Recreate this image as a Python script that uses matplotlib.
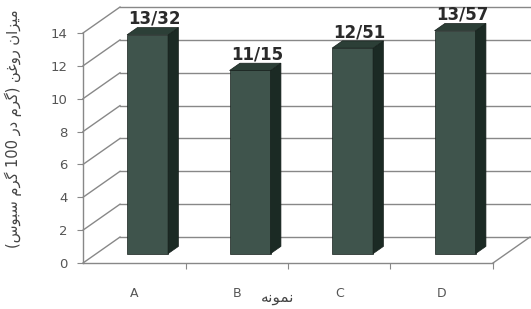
import numpy as np
import matplotlib

matplotlib.use("Agg")
import matplotlib.pyplot as plt
from matplotlib.patches import Polygon

# data
samples = ["A", "B", "C", "D"]
oil = [13.32, 11.15, 12.51, 13.57]
value_labels = ["13/32", "11/15", "12/51", "13/57"]
y_ticks = [0, 2, 4, 6, 8, 10, 12, 14]

# Persian text in visual order with presentation forms (matplotlib does no shaping)
w_mizan = "\ufee5\ufe8d\ufeb0\ufef4\ufee3"
w_roghan = "\ufee6\ufecf\ufeed\ufead"
w_geram = "\ufee1\ufeae\ufb94"
w_dar = "\ufead\ufea9"
w_sabus = "\ufeb1\ufeee\ufe92\ufeb3"
ylabel_text = "(" + w_sabus + " " + w_geram + " 100 " + w_dar + " " + w_geram + ") " + w_roghan + " " + w_mizan
xlabel_text = "\ufeea\ufee7\ufeee\ufee4\ufee7"

# oblique depth of the chart box, in data units
DX, DY = 0.361, 1.58
BAR_W = 0.40
BAR_F = 0.36   # depth fraction where the bar front face sits
BAR_D = 0.28   # bar depth fraction

FRONT = "#3f544c"
SIDE = "#1b2a24"
TOP = "#2c3f37"
GRID = "#888888"

fig = plt.figure(figsize=(5.31, 3.09), dpi=100)
ax = fig.add_axes([83 / 531, 46 / 309, 410 / 531, 230 / 309])
n = len(samples)
ax.set_xlim(0, n)
ax.set_ylim(0, 14)

# walls: left diagonals + back horizontal gridlines
for t in y_ticks:
    ax.plot([0, DX], [t, t + DY], color=GRID, lw=1.0, clip_on=False, zorder=1)
    ax.plot([DX, n + DX], [t + DY, t + DY], color=GRID, lw=1.0, clip_on=False, zorder=1)
# floor right edge
ax.plot([n, n + DX], [0, DY], color=GRID, lw=1.0, clip_on=False, zorder=1)

# bars
for i, v in enumerate(oil):
    xl = i + 0.5 - BAR_W / 2 + BAR_F * DX
    yb = BAR_F * DY
    ddx, ddy = BAR_D * DX, BAR_D * DY
    xr = xl + BAR_W
    front = Polygon([(xl, yb), (xr, yb), (xr, yb + v), (xl, yb + v)],
                    closed=True, fc=FRONT, ec="#16201c", lw=0.5, zorder=3, clip_on=False)
    side = Polygon([(xr, yb), (xr + ddx, yb + ddy), (xr + ddx, yb + ddy + v), (xr, yb + v)],
                   closed=True, fc=SIDE, ec="#16201c", lw=0.5, zorder=3, clip_on=False)
    top = Polygon([(xl, yb + v), (xr, yb + v), (xr + ddx, yb + v + ddy), (xl + ddx, yb + v + ddy)],
                  closed=True, fc=TOP, ec="#16201c", lw=0.5, zorder=3, clip_on=False)
    for p in (front, side, top):
        ax.add_patch(p)
    ax.text(i + 0.5 + 0.55 * DX, v + 1.55, value_labels[i], ha="center", va="center",
            fontsize=12, fontweight="bold", color="#2a2a2a", clip_on=False, zorder=4)

# axes styling
for s in ("top", "right"):
    ax.spines[s].set_visible(False)
for s in ("left", "bottom"):
    ax.spines[s].set_color(GRID)
    ax.spines[s].set_linewidth(1.0)

ax.set_yticks(y_ticks)
ax.set_yticklabels([str(t) for t in y_ticks])
ax.tick_params(axis="y", length=4, color=GRID, labelsize=9.5, labelcolor="#555555", pad=7)

ax.set_xticks(np.arange(1, n + 1))
ax.set_xticklabels([])
ax.set_xticks(np.arange(n) + 0.5, minor=True)
ax.set_xticklabels(samples, minor=True)
ax.tick_params(axis="x", which="major", length=4, color=GRID)
ax.tick_params(axis="x", which="minor", length=0, labelsize=9, labelcolor="#555555", pad=17)

ax.text(0.475, -0.15, xlabel_text, transform=ax.transAxes, ha="center", va="center",
        fontsize=11, color="#444444")
ax.text(-0.17, 0.585, ylabel_text, transform=ax.transAxes, ha="center", va="center",
        rotation=90, fontsize=10.5, color="#444444")

fig.savefig("out.png", dpi=100)
